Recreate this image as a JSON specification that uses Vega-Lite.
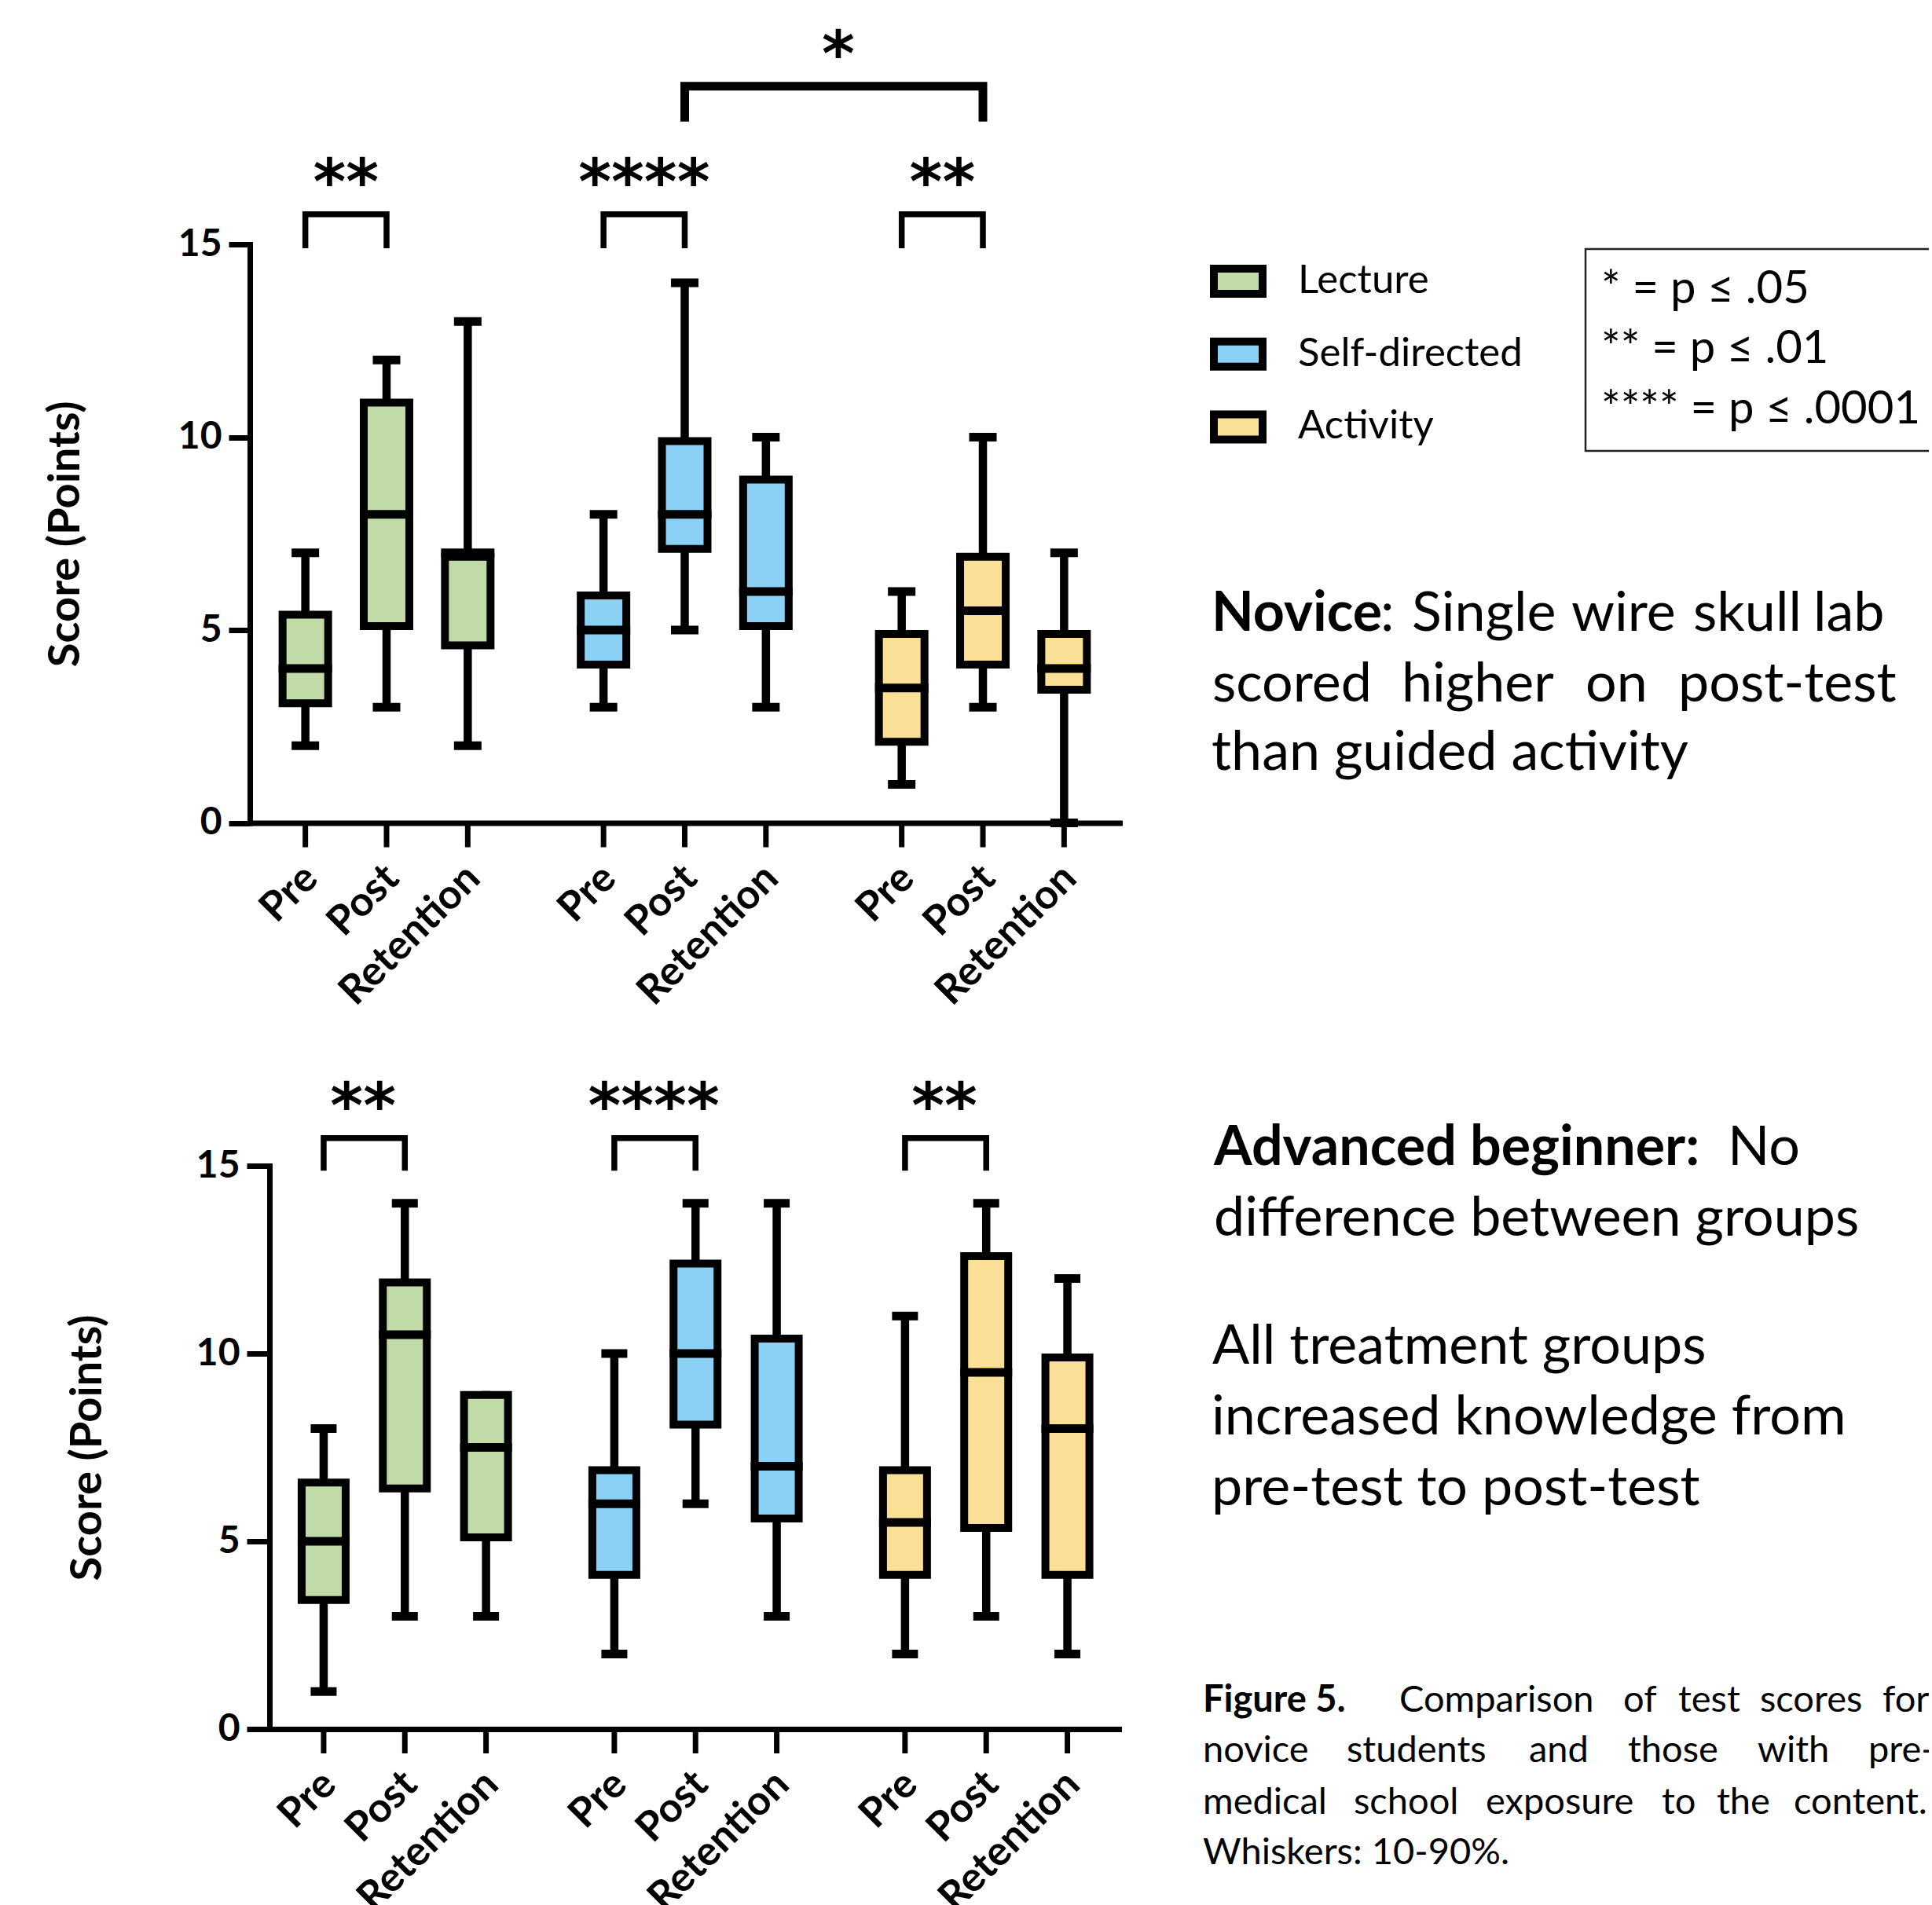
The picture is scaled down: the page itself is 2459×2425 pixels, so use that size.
{
  "$schema": "https://vega.github.io/schema/vega-lite/v6.json",
  "background": "white",
  "padding": {"left": 55, "top": 32, "right": -4, "bottom": -18},
  "config": {"view": {"stroke": null}, "font": "Lato"},
  "datasets": {
    "novice": [
      {"group": "Lecture", "time": "Pre", "wlo": 2, "q1": 3, "med": 4, "q3": 5.5, "whi": 7},
      {"group": "Lecture", "time": "Post", "wlo": 3, "q1": 5, "med": 8, "q3": 11, "whi": 12},
      {"group": "Lecture", "time": "Retention", "wlo": 2, "q1": 4.5, "med": 7, "q3": 7, "whi": 13},
      {"group": "Self-directed", "time": "Pre", "wlo": 3, "q1": 4, "med": 5, "q3": 6, "whi": 8},
      {"group": "Self-directed", "time": "Post", "wlo": 5, "q1": 7, "med": 8, "q3": 10, "whi": 14},
      {"group": "Self-directed", "time": "Retention", "wlo": 3, "q1": 5, "med": 6, "q3": 9, "whi": 10},
      {"group": "Activity", "time": "Pre", "wlo": 1, "q1": 2, "med": 3.5, "q3": 5, "whi": 6},
      {"group": "Activity", "time": "Post", "wlo": 3, "q1": 4, "med": 5.5, "q3": 7, "whi": 10},
      {"group": "Activity", "time": "Retention", "wlo": 0, "q1": 3.35, "med": 4, "q3": 5, "whi": 7}
    ],
    "advanced": [
      {"group": "Lecture", "time": "Pre", "wlo": 1, "q1": 3.33, "med": 5, "q3": 6.67, "whi": 8},
      {"group": "Lecture", "time": "Post", "wlo": 3, "q1": 6.3, "med": 10.5, "q3": 12, "whi": 14},
      {"group": "Lecture", "time": "Retention", "wlo": 3, "q1": 5, "med": 7.5, "q3": 9, "whi": 9},
      {"group": "Self-directed", "time": "Pre", "wlo": 2, "q1": 4, "med": 6, "q3": 7, "whi": 10},
      {"group": "Self-directed", "time": "Post", "wlo": 6, "q1": 8, "med": 10, "q3": 12.5, "whi": 14},
      {"group": "Self-directed", "time": "Retention", "wlo": 3, "q1": 5.5, "med": 7, "q3": 10.5, "whi": 14},
      {"group": "Activity", "time": "Pre", "wlo": 2, "q1": 4, "med": 5.5, "q3": 7, "whi": 11},
      {"group": "Activity", "time": "Post", "wlo": 3, "q1": 5.25, "med": 9.5, "q3": 12.7, "whi": 14},
      {"group": "Activity", "time": "Retention", "wlo": 2, "q1": 4, "med": 8, "q3": 10, "whi": 12}
    ],
    "nov_br": [
      {"id": "L", "group": "Lecture", "time": "Pre", "seq": 1, "v": 14.9},
      {"id": "L", "group": "Lecture", "time": "Pre", "seq": 2, "v": 15.78},
      {"id": "L", "group": "Lecture", "time": "Post", "seq": 3, "v": 15.78},
      {"id": "L", "group": "Lecture", "time": "Post", "seq": 4, "v": 14.9},
      {"id": "S", "group": "Self-directed", "time": "Pre", "seq": 1, "v": 14.9},
      {"id": "S", "group": "Self-directed", "time": "Pre", "seq": 2, "v": 15.78},
      {"id": "S", "group": "Self-directed", "time": "Post", "seq": 3, "v": 15.78},
      {"id": "S", "group": "Self-directed", "time": "Post", "seq": 4, "v": 14.9},
      {"id": "A", "group": "Activity", "time": "Pre", "seq": 1, "v": 14.9},
      {"id": "A", "group": "Activity", "time": "Pre", "seq": 2, "v": 15.78},
      {"id": "A", "group": "Activity", "time": "Post", "seq": 3, "v": 15.78},
      {"id": "A", "group": "Activity", "time": "Post", "seq": 4, "v": 14.9}
    ],
    "nov_top": [
      {"id": "T", "group": "Self-directed", "time": "Post", "seq": 1, "v": 18.18},
      {"id": "T", "group": "Self-directed", "time": "Post", "seq": 2, "v": 19.1},
      {"id": "T", "group": "Activity", "time": "Post", "seq": 3, "v": 19.1},
      {"id": "T", "group": "Activity", "time": "Post", "seq": 4, "v": 18.18}
    ],
    "nov_stars": [
      {"group": "Lecture", "time": "Pre", "label": "**", "v": 16.77},
      {"group": "Self-directed", "time": "Pre", "label": "****", "v": 16.77},
      {"group": "Activity", "time": "Pre", "label": "**", "v": 16.77}
    ],
    "nov_star_top": [
      {"group": "Self-directed", "time": "Retention", "label": "*", "v": 20.15}
    ],
    "adv_br": [
      {"id": "L", "group": "Lecture", "time": "Pre", "seq": 1, "v": 14.87},
      {"id": "L", "group": "Lecture", "time": "Pre", "seq": 2, "v": 15.74},
      {"id": "L", "group": "Lecture", "time": "Post", "seq": 3, "v": 15.74},
      {"id": "L", "group": "Lecture", "time": "Post", "seq": 4, "v": 14.87},
      {"id": "S", "group": "Self-directed", "time": "Pre", "seq": 1, "v": 14.87},
      {"id": "S", "group": "Self-directed", "time": "Pre", "seq": 2, "v": 15.74},
      {"id": "S", "group": "Self-directed", "time": "Post", "seq": 3, "v": 15.74},
      {"id": "S", "group": "Self-directed", "time": "Post", "seq": 4, "v": 14.87},
      {"id": "A", "group": "Activity", "time": "Pre", "seq": 1, "v": 14.87},
      {"id": "A", "group": "Activity", "time": "Pre", "seq": 2, "v": 15.74},
      {"id": "A", "group": "Activity", "time": "Post", "seq": 3, "v": 15.74},
      {"id": "A", "group": "Activity", "time": "Post", "seq": 4, "v": 14.87}
    ],
    "adv_stars": [
      {"group": "Lecture", "time": "Pre", "label": "**", "v": 16.76},
      {"group": "Self-directed", "time": "Pre", "label": "****", "v": 16.76},
      {"group": "Activity", "time": "Pre", "label": "**", "v": 16.76}
    ],
    "p1_box": [{"x1": 518, "x2": 1000, "y1": 6, "y2": 263}],
    "p1_pbox": [
      {"t": "* = p ≤ .05", "x": 538, "y": 75},
      {"t": "** = p ≤ .01", "x": 538, "y": 151},
      {"t": "**** = p ≤ .0001", "x": 538, "y": 228}
    ],
    "p1_bold": [{"t": "Novice", "x": 42, "y": 492}],
    "p1_reg": [
      {"t": ":", "x": 257, "y": 492},
      {"t": "Single", "x": 297, "y": 492},
      {"t": "wire", "x": 500, "y": 492},
      {"t": "skull", "x": 655, "y": 492},
      {"t": "lab", "x": 808, "y": 492},
      {"t": "scored", "x": 43, "y": 582},
      {"t": "higher", "x": 284, "y": 582},
      {"t": "on", "x": 518, "y": 582},
      {"t": "post-test", "x": 636, "y": 582},
      {"t": "than guided activity", "x": 42, "y": 669}
    ],
    "p2_bold": [{"t": "Advanced beginner:", "x": 45, "y": -1}],
    "p2_reg": [
      {"t": "No", "x": 699, "y": -1},
      {"t": "difference between groups", "x": 45, "y": 89},
      {"t": "All treatment groups", "x": 43, "y": 252},
      {"t": "increased knowledge from", "x": 42, "y": 342},
      {"t": "pre-test to post-test", "x": 42, "y": 432}
    ],
    "cap_bold": [{"t": "Figure 5.", "x": 31, "y": 695}],
    "cap_reg": [
      {"t": "Comparison", "x": 281, "y": 695},
      {"t": "of", "x": 566, "y": 695},
      {"t": "test", "x": 636, "y": 695},
      {"t": "scores", "x": 740, "y": 695},
      {"t": "for", "x": 896, "y": 695},
      {"t": "novice", "x": 31, "y": 759},
      {"t": "students", "x": 214, "y": 759},
      {"t": "and", "x": 446, "y": 759},
      {"t": "those", "x": 572, "y": 759},
      {"t": "with", "x": 737, "y": 759},
      {"t": "pre-", "x": 878, "y": 759},
      {"t": "medical", "x": 31, "y": 825},
      {"t": "school", "x": 223, "y": 825},
      {"t": "exposure", "x": 391, "y": 825},
      {"t": "to", "x": 615, "y": 825},
      {"t": "the", "x": 685, "y": 825},
      {"t": "content.", "x": 783, "y": 825},
      {"t": "Whiskers: 10-90%.", "x": 31, "y": 889}
    ]
  },
  "bounds": "flush",
  "spacing": 1173,
  "vconcat": [
    {
      "bounds": "flush",
      "spacing": 75,
      "hconcat": [
        {
          "width": 1107,
          "height": 736.5,
          "data": {"name": "novice"},
          "encoding": {
            "x": {"field": "group", "type": "nominal", "scale": {"type": "band", "domain": ["Lecture", "Self-directed", "Activity"], "paddingInner": 0.1831, "paddingOuter": 0.05, "align": 0.5}, "axis": {"labels": false, "ticks": false, "title": null, "grid": false, "domainWidth": 7, "domainColor": "black", "domainCap": "square"}},
            "xOffset": {"field": "time", "type": "nominal", "scale": {"type": "band", "domain": ["Pre", "Post", "Retention"], "paddingInner": 0, "paddingOuter": 0}}
          },
          "layer": [
            {"mark": {"type": "rule", "color": "black", "strokeWidth": 10.5},
             "encoding": {
               "y": {"field": "wlo", "type": "quantitative", "scale": {"domain": [0, 15], "nice": false, "zero": false},
                     "axis": {"values": [0, 5, 10, 15], "grid": false, "title": "Score (Points)", "titleFont": "Lato", "titleFontSize": 56, "titleFontWeight": "bold", "titleColor": "black", "titleX": -235, "titleBaseline": "middle", "titleAngle": -90, "labelFont": "Lato", "labelFontSize": 48, "labelFontWeight": "bold", "labelColor": "black", "labelPadding": 9, "tickSize": 27, "tickWidth": 7, "tickColor": "black", "domainWidth": 7, "domainColor": "black", "domainCap": "square", "labelFlush": false, "labelOverlap": false}},
               "y2": {"field": "whi"}}},
            {"mark": {"type": "bar", "color": "black", "width": 68},
             "encoding": {"y": {"field": "q1", "type": "quantitative"}, "y2": {"field": "q3"}}},
            {"mark": {"type": "bar", "width": 48, "yOffset": -10, "y2Offset": 10},
             "encoding": {"y": {"field": "q1", "type": "quantitative"}, "y2": {"field": "q3"},
               "color": {"field": "group", "type": "nominal", "scale": {"domain": ["Lecture", "Self-directed", "Activity"], "range": ["#C0DBA8", "#8AD1F5", "#FAE096"]},
                 "legend": {"orient": "none", "legendX": 1222, "legendY": 11, "title": null, "symbolType": "M-1,-0.516H1V0.516H-1Z", "symbolSize": 3844, "symbolStrokeColor": "black", "symbolStrokeWidth": 10, "symbolOpacity": 1, "labelFont": "Lato", "labelFontSize": 51, "labelColor": "black", "labelOffset": 40, "rowPadding": 20.7, "padding": 0, "labelLimit": 0}}}},
            {"mark": {"type": "tick", "color": "black", "size": 68, "thickness": 11, "opacity": 1},
             "encoding": {"y": {"field": "med", "type": "quantitative"}}},
            {"transform": [{"filter": "datum.whi > datum.q3"}],
             "mark": {"type": "tick", "color": "black", "size": 35, "thickness": 11, "opacity": 1},
             "encoding": {"y": {"field": "whi", "type": "quantitative"}}},
            {"transform": [{"filter": "datum.wlo < datum.q1"}],
             "mark": {"type": "tick", "color": "black", "size": 35, "thickness": 11, "opacity": 1},
             "encoding": {"y": {"field": "wlo", "type": "quantitative"}}},
            {"mark": {"type": "rule", "color": "black", "strokeWidth": 7, "y2Offset": 31},
             "encoding": {"y": {"datum": 0, "type": "quantitative"}, "y2": {"datum": 0}}},
            {"mark": {"type": "text", "angle": 315, "align": "right", "baseline": "middle", "dx": -39, "dy": 49, "font": "Lato", "fontWeight": "bold", "fontSize": 52, "color": "black"},
             "encoding": {"y": {"datum": 0, "type": "quantitative"}, "text": {"field": "time"}}},
            {"data": {"name": "nov_br"},
             "mark": {"type": "line", "color": "black", "strokeWidth": 7.5, "strokeCap": "butt", "strokeJoin": "miter"},
             "encoding": {"y": {"field": "v", "type": "quantitative"}, "detail": {"field": "id"}, "order": {"field": "seq"}}},
            {"data": {"name": "nov_top"},
             "mark": {"type": "line", "color": "black", "strokeWidth": 11, "strokeCap": "butt", "strokeJoin": "miter"},
             "encoding": {"y": {"field": "v", "type": "quantitative"}, "detail": {"field": "id"}, "order": {"field": "seq"}}},
            {"data": {"name": "nov_stars"},
             "mark": {"type": "text", "align": "center", "baseline": "middle", "dx": 51.7, "dy": 11, "font": "DejaVu Sans", "fontWeight": "bold", "fontSize": 80, "color": "black"},
             "encoding": {"y": {"field": "v", "type": "quantitative"}, "text": {"field": "label"}}},
            {"data": {"name": "nov_star_top"},
             "mark": {"type": "text", "align": "center", "baseline": "middle", "dx": 92, "dy": 14, "font": "DejaVu Sans", "fontWeight": "bold", "fontSize": 80, "color": "black"},
             "encoding": {"y": {"field": "v", "type": "quantitative"}, "text": {"field": "label"}}}
          ]
        },
        {
          "width": 959,
          "height": 736.5,
          "encoding": {
            "x": {"field": "x", "type": "quantitative", "scale": {"domain": [0, 959], "nice": false, "zero": false}, "axis": null},
            "y": {"field": "y", "type": "quantitative", "scale": {"domain": [0, 736.5], "nice": false, "zero": false, "reverse": true}, "axis": null},
            "text": {"field": "t"}
          },
          "layer": [
            {"data": {"name": "p1_box"},
             "mark": {"type": "rect", "fill": "white", "fillOpacity": 0, "stroke": "#222222", "strokeWidth": 2.5, "clip": true},
             "encoding": {"x": {"field": "x1", "type": "quantitative"}, "x2": {"field": "x2"}, "y": {"field": "y1", "type": "quantitative"}, "y2": {"field": "y2"}, "text": null}},
            {"data": {"name": "p1_pbox"},
             "mark": {"type": "text", "align": "left", "baseline": "alphabetic", "font": "Lato", "fontSize": 58, "color": "black", "clip": true}},
            {"data": {"name": "p1_bold"},
             "mark": {"type": "text", "align": "left", "baseline": "alphabetic", "font": "Lato", "fontWeight": "bold", "fontSize": 70, "color": "black"}},
            {"data": {"name": "p1_reg"},
             "mark": {"type": "text", "align": "left", "baseline": "alphabetic", "font": "Lato", "fontSize": 70, "color": "black"}}
          ]
        }
      ]
    },
    {
      "bounds": "flush",
      "spacing": 76,
      "hconcat": [
        {
          "width": 1106,
          "height": 717,
          "data": {"name": "advanced"},
          "encoding": {
            "x": {"field": "group", "type": "nominal", "scale": {"type": "band", "domain": ["Lecture", "Self-directed", "Activity"], "paddingInner": 0.185, "paddingOuter": 0.0872, "align": 0.655}, "axis": {"labels": false, "ticks": false, "title": null, "grid": false, "domainWidth": 7, "domainColor": "black", "domainCap": "square"}},
            "xOffset": {"field": "time", "type": "nominal", "scale": {"type": "band", "domain": ["Pre", "Post", "Retention"], "paddingInner": 0, "paddingOuter": 0}}
          },
          "layer": [
            {"mark": {"type": "rule", "color": "black", "strokeWidth": 10.5},
             "encoding": {
               "y": {"field": "wlo", "type": "quantitative", "scale": {"domain": [0, 15], "nice": false, "zero": false},
                     "axis": {"values": [0, 5, 10, 15], "offset": -25, "grid": false, "title": "Score (Points)", "titleFont": "Lato", "titleFontSize": 56, "titleFontWeight": "bold", "titleColor": "black", "titleX": -232, "titleBaseline": "middle", "titleAngle": -90, "labelFont": "Lato", "labelFontSize": 48, "labelFontWeight": "bold", "labelColor": "black", "labelPadding": 9, "tickSize": 29, "tickWidth": 7, "tickColor": "black", "domainWidth": 7, "domainColor": "black", "domainCap": "square", "labelFlush": false, "labelOverlap": false}},
               "y2": {"field": "whi"}}},
            {"mark": {"type": "bar", "color": "black", "width": 66},
             "encoding": {"y": {"field": "q1", "type": "quantitative"}, "y2": {"field": "q3"}}},
            {"mark": {"type": "bar", "width": 46, "yOffset": -10, "y2Offset": 10},
             "encoding": {"y": {"field": "q1", "type": "quantitative"}, "y2": {"field": "q3"},
               "color": {"field": "group", "type": "nominal", "scale": {"domain": ["Lecture", "Self-directed", "Activity"], "range": ["#C0DBA8", "#8AD1F5", "#FAE096"]}, "legend": null}}},
            {"mark": {"type": "tick", "color": "black", "size": 66, "thickness": 11, "opacity": 1},
             "encoding": {"y": {"field": "med", "type": "quantitative"}}},
            {"transform": [{"filter": "datum.whi > datum.q3"}],
             "mark": {"type": "tick", "color": "black", "size": 33, "thickness": 11, "opacity": 1},
             "encoding": {"y": {"field": "whi", "type": "quantitative"}}},
            {"transform": [{"filter": "datum.wlo < datum.q1"}],
             "mark": {"type": "tick", "color": "black", "size": 33, "thickness": 11, "opacity": 1},
             "encoding": {"y": {"field": "wlo", "type": "quantitative"}}},
            {"mark": {"type": "rule", "color": "black", "strokeWidth": 7, "y2Offset": 31},
             "encoding": {"y": {"datum": 0, "type": "quantitative"}, "y2": {"datum": 0}}},
            {"mark": {"type": "text", "angle": 315, "align": "right", "baseline": "middle", "dx": -39, "dy": 49, "font": "Lato", "fontWeight": "bold", "fontSize": 52, "color": "black"},
             "encoding": {"y": {"datum": 0, "type": "quantitative"}, "text": {"field": "time"}}},
            {"data": {"name": "adv_br"},
             "mark": {"type": "line", "color": "black", "strokeWidth": 7.5, "strokeCap": "butt", "strokeJoin": "miter"},
             "encoding": {"y": {"field": "v", "type": "quantitative"}, "detail": {"field": "id"}, "order": {"field": "seq"}}},
            {"data": {"name": "adv_stars"},
             "mark": {"type": "text", "align": "center", "baseline": "middle", "dx": 50.2, "dy": 11, "font": "DejaVu Sans", "fontWeight": "bold", "fontSize": 80, "color": "black"},
             "encoding": {"y": {"field": "v", "type": "quantitative"}, "text": {"field": "label"}}}
          ]
        },
        {
          "width": 959,
          "height": 910,
          "encoding": {
            "x": {"field": "x", "type": "quantitative", "scale": {"domain": [0, 959], "nice": false, "zero": false}, "axis": null},
            "y": {"field": "y", "type": "quantitative", "scale": {"domain": [0, 910], "nice": false, "zero": false, "reverse": true}, "axis": null},
            "text": {"field": "t"}
          },
          "layer": [
            {"data": {"name": "p2_bold"},
             "mark": {"type": "text", "align": "left", "baseline": "alphabetic", "font": "Lato", "fontWeight": "bold", "fontSize": 70, "color": "black"}},
            {"data": {"name": "p2_reg"},
             "mark": {"type": "text", "align": "left", "baseline": "alphabetic", "font": "Lato", "fontSize": 70, "color": "black"}},
            {"data": {"name": "cap_bold"},
             "mark": {"type": "text", "align": "left", "baseline": "alphabetic", "font": "Lato", "fontWeight": "bold", "fontSize": 47, "color": "black", "clip": true}},
            {"data": {"name": "cap_reg"},
             "mark": {"type": "text", "align": "left", "baseline": "alphabetic", "font": "Lato", "fontSize": 47, "color": "black", "clip": true}}
          ]
        }
      ]
    }
  ]
}
